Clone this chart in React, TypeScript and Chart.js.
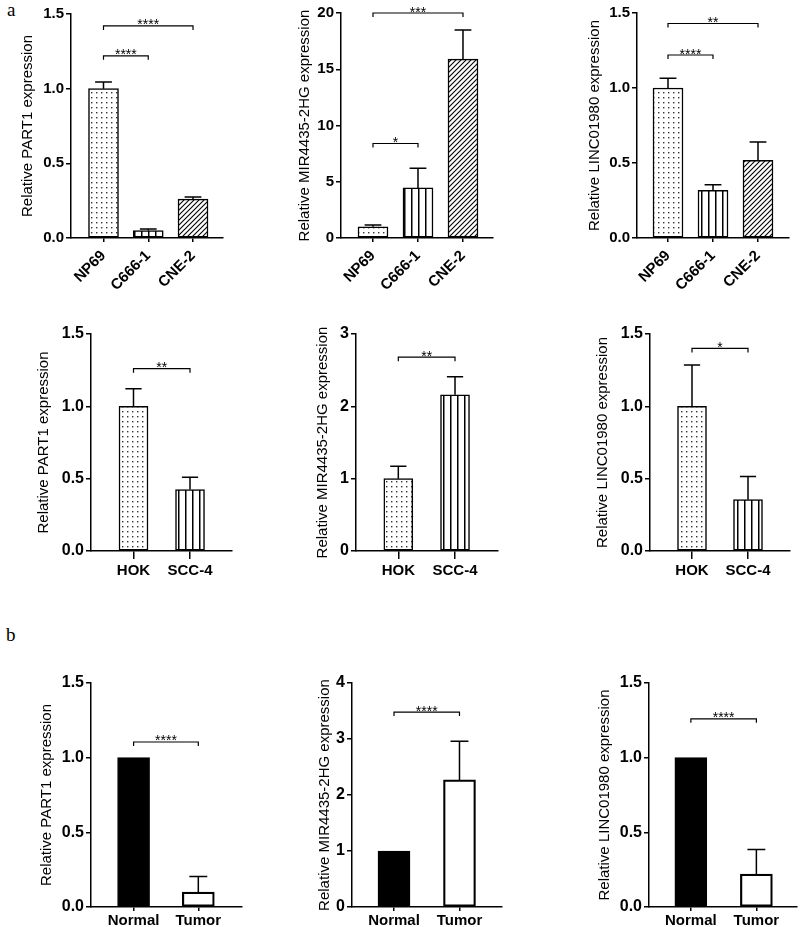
import React, { useEffect, useRef } from "react";
import { Chart, registerables } from "chart.js";
Chart.register(...registerables);

// ---------- data ----------
const npcCells = ["NP69", "C666-1", "CNE-2"];
const oralCells = ["HOK", "SCC-4"];
const tissues = ["Normal", "Tumor"];

const npcPart1Mean = [1.0, 0.05, 0.26];
const npcPart1Sd = [0.045, 0.01, 0.015];
const npcMirMean = [1.0, 4.45, 15.9];
const npcMirSd = [0.15, 1.75, 2.6];
const npcLincMean = [1.0, 0.317, 0.518];
const npcLincSd = [0.065, 0.038, 0.122];

const oralPart1Mean = [1.0, 0.425];
const oralPart1Sd = [0.122, 0.085];
const oralMirMean = [1.0, 2.16];
const oralMirSd = [0.17, 0.25];
const oralLincMean = [1.0, 0.355];
const oralLincSd = [0.285, 0.16];

const tissuePart1Mean = [1.0, 0.1];
const tissuePart1Sd = [0, 0.105];
const tissueMirMean = [1.0, 2.27];
const tissueMirSd = [0, 0.69];
const tissueLincMean = [1.0, 0.22];
const tissueLincSd = [0, 0.165];

const ticksRel = [0, 0.5, 1.0, 1.5];
const ticksMirNpc = [0, 5, 10, 15, 20];
const ticksMirOral = [0, 1, 2, 3];
const ticksMirTissue = [0, 1, 2, 3, 4];

// significance brackets: [from, to, level, label]
const npcPart1Sig: [number, number, number, string][] = [[0, 1, 1.22, "****"], [0, 2, 1.42, "****"]];
const npcMirSig: [number, number, number, string][] = [[0, 1, 8.4, "*"], [0, 2, 20.0, "***"]];
const npcLincSig: [number, number, number, string][] = [[0, 1, 1.22, "****"], [0, 2, 1.43, "**"]];
const oralPart1Sig: [number, number, number, string][] = [[0, 1, 1.26, "**"]];
const oralMirSig: [number, number, number, string][] = [[0, 1, 2.68, "**"]];
const oralLincSig: [number, number, number, string][] = [[0, 1, 1.4, "*"]];
const tissuePart1Sig: [number, number, number, string][] = [[0, 1, 1.105, "****"]];
const tissueMirSig: [number, number, number, string][] = [[0, 1, 3.48, "****"]];
const tissueLincSig: [number, number, number, string][] = [[0, 1, 1.26, "****"]];

const FONT = '"Liberation Sans", Arial, sans-serif';

type Cfg = {
  cats: string[]; mean: number[]; sd: number[]; sig: [number, number, number, string][];
  yTicks: number[]; yMax: number; title: string; fills: string[]; decimals: number;
  axisX: number; axisTop: number; axisBottom: number; axisRight: number; titleCX: number;
  xMin: number; xMax: number; barT: number; rot: number; xTickLen: number; xPad: number;
  xH: number; yFont: number; bw: number[];
};

const npcFills = ["dots", "vlines", "hatch"];
const oralFills = ["dots", "vlines"];
const tissueFills = ["black", "white"];

const panels: Cfg[] = [
  { cats: npcCells, mean: npcPart1Mean, sd: npcPart1Sd, sig: npcPart1Sig, yTicks: ticksRel, yMax: 1.5, decimals: 1,
    title: "Relative PART1 expression", fills: npcFills, axisX: 71, axisTop: 14, axisBottom: 238, axisRight: 223,
    titleCX: 28, xMin: -0.726, xMax: 2.67, barT: 30, rot: 45, xTickLen: 4, xPad: 5, xH: 60, yFont: 15, bw: [1.5, 1.5, 1.5] },
  { cats: npcCells, mean: npcMirMean, sd: npcMirSd, sig: npcMirSig, yTicks: ticksMirNpc, yMax: 20, decimals: 0,
    title: "Relative MIR4435-2HG expression", fills: npcFills, axisX: 341, axisTop: 13, axisBottom: 238, axisRight: 493,
    titleCX: 305, xMin: -0.711, xMax: 2.667, barT: 30, rot: 45, xTickLen: 4, xPad: 5, xH: 60, yFont: 15, bw: [1.5, 1.5, 1.5] },
  { cats: npcCells, mean: npcLincMean, sd: npcLincSd, sig: npcLincSig, yTicks: ticksRel, yMax: 1.5, decimals: 1,
    title: "Relative LINC01980 expression", fills: npcFills, axisX: 637, axisTop: 13, axisBottom: 238, axisRight: 789,
    titleCX: 595, xMin: -0.689, xMax: 2.689, barT: 30, rot: 45, xTickLen: 4, xPad: 5, xH: 60, yFont: 15, bw: [1.5, 1.5, 1.5] },
  { cats: oralCells, mean: oralPart1Mean, sd: oralPart1Sd, sig: oralPart1Sig, yTicks: ticksRel, yMax: 1.5, decimals: 1,
    title: "Relative PART1 expression", fills: oralFills, axisX: 91, axisTop: 334, axisBottom: 551, axisRight: 232,
    titleCX: 44, xMin: -0.752, xMax: 1.743, barT: 29, rot: 0, xTickLen: 8, xPad: 3, xH: 35, yFont: 16, bw: [1.5, 1.5] },
  { cats: oralCells, mean: oralMirMean, sd: oralMirSd, sig: oralMirSig, yTicks: ticksMirOral, yMax: 3, decimals: 0,
    title: "Relative MIR4435-2HG expression", fills: oralFills, axisX: 356, axisTop: 334, axisBottom: 551, axisRight: 498,
    titleCX: 323, xMin: -0.746, xMax: 1.758, barT: 29, rot: 0, xTickLen: 8, xPad: 3, xH: 35, yFont: 16, bw: [1.5, 1.5] },
  { cats: oralCells, mean: oralLincMean, sd: oralLincSd, sig: oralLincSig, yTicks: ticksRel, yMax: 1.5, decimals: 1,
    title: "Relative LINC01980 expression", fills: oralFills, axisX: 650, axisTop: 334, axisBottom: 551, axisRight: 790,
    titleCX: 603, xMin: -0.75, xMax: 1.75, barT: 29, rot: 0, xTickLen: 8, xPad: 3, xH: 35, yFont: 16, bw: [1.5, 1.5] },
  { cats: tissues, mean: tissuePart1Mean, sd: tissuePart1Sd, sig: tissuePart1Sig, yTicks: ticksRel, yMax: 1.5, decimals: 1,
    title: "Relative PART1 expression", fills: tissueFills, axisX: 91, axisTop: 683, axisBottom: 907, axisRight: 242,
    titleCX: 47, xMin: -0.658, xMax: 1.675, barT: 32, rot: 0, xTickLen: 4, xPad: 1, xH: 20, yFont: 16, bw: [1, 2.2] },
  { cats: tissues, mean: tissueMirMean, sd: tissueMirSd, sig: tissueMirSig, yTicks: ticksMirTissue, yMax: 4, decimals: 0,
    title: "Relative MIR4435-2HG expression", fills: tissueFills, axisX: 352, axisTop: 683, axisBottom: 907, axisRight: 502,
    titleCX: 325, xMin: -0.641, xMax: 1.649, barT: 32, rot: 0, xTickLen: 4, xPad: 1, xH: 20, yFont: 16, bw: [1, 2.2] },
  { cats: tissues, mean: tissueLincMean, sd: tissueLincSd, sig: tissueLincSig, yTicks: ticksRel, yMax: 1.5, decimals: 1,
    title: "Relative LINC01980 expression", fills: tissueFills, axisX: 649, axisTop: 683, axisBottom: 907, axisRight: 797,
    titleCX: 605, xMin: -0.639, xMax: 1.62, barT: 32, rot: 0, xTickLen: 4, xPad: 1, xH: 20, yFont: 16, bw: [1, 2.2] },
];

function makeFill(kind: string): any {
  if (kind === "black") return "#000";
  if (kind === "white") return "#fff";
  const c = document.createElement("canvas");
  const g = c.getContext("2d")!;
  if (kind === "dots") {
    c.width = 5; c.height = 5;
    g.fillStyle = "#fff"; g.fillRect(0, 0, 5, 5);
    g.fillStyle = "#333"; g.fillRect(2, 2, 1.4, 1.4);
  } else if (kind === "vlines") {
    c.width = 7; c.height = 4;
    g.fillStyle = "#fff"; g.fillRect(0, 0, 7, 4);
    g.fillStyle = "#000"; g.fillRect(3, 0, 1.5, 4);
  } else {
    c.width = 5; c.height = 5;
    g.fillStyle = "#fff"; g.fillRect(0, 0, 5, 5);
    g.strokeStyle = "#000"; g.lineWidth = 1.1;
    g.beginPath();
    g.moveTo(-1, 6); g.lineTo(6, -1);
    g.moveTo(-1, 1); g.lineTo(1, -1);
    g.moveTo(4, 6); g.lineTo(6, 4);
    g.stroke();
  }
  return g.createPattern(c, "repeat");
}

function Panel({ cfg }: { cfg: Cfg }) {
  const ref = useRef<HTMLCanvasElement>(null);
  const left = Math.round(cfg.titleCX - 9);
  const top = Math.max(0, cfg.axisTop - 20);
  const padTop = cfg.axisTop - top;
  const padR = Math.max(0, Math.min(8, 800 - cfg.axisRight));
  const width = cfg.axisRight + padR - left;
  const height = cfg.axisBottom + cfg.xH - top;
  const yW = cfg.axisX - left;

  useEffect(() => {
    const overlay = {
      id: "overlay",
      afterDatasetsDraw(chart: any) {
        const { ctx } = chart;
        const x = chart.scales.x, y = chart.scales.y;
        ctx.save();
        ctx.strokeStyle = "#000";
        ctx.lineWidth = 1.5;
        cfg.mean.forEach((m, i) => {
          const s = cfg.sd[i];
          if (!s) return;
          const px = x.getPixelForValue(i);
          const y0 = y.getPixelForValue(m);
          const y1 = y.getPixelForValue(m + s);
          const half = cfg.barT * 0.28;
          ctx.beginPath();
          ctx.moveTo(px, y0); ctx.lineTo(px, y1);
          ctx.moveTo(px - half, y1); ctx.lineTo(px + half, y1);
          ctx.stroke();
        });
        ctx.lineWidth = 1.2;
        ctx.font = `14px ${FONT}`;
        ctx.textAlign = "center";
        ctx.textBaseline = "alphabetic";
        ctx.fillStyle = "#000";
        cfg.sig.forEach(([a, b, lv, lab]) => {
          const x1 = x.getPixelForValue(a), x2 = x.getPixelForValue(b), py = y.getPixelForValue(lv);
          ctx.beginPath();
          ctx.moveTo(x1, py + 4); ctx.lineTo(x1, py); ctx.lineTo(x2, py); ctx.lineTo(x2, py + 4);
          ctx.stroke();
          ctx.fillText(lab, (x1 + x2) / 2, py + 3.5);
        });
        ctx.restore();
      },
    };

    const chart = new Chart(ref.current!, {
      type: "bar",
      data: {
        datasets: [{
          data: cfg.mean.map((v, i) => ({ x: i, y: v })),
          backgroundColor: cfg.fills.map(makeFill),
          borderColor: "#000",
          borderWidth: cfg.bw,
          borderSkipped: false,
          barThickness: cfg.barT,
        } as any],
      },
      options: {
        responsive: false,
        animation: false,
        devicePixelRatio: 1,
        layout: { padding: { top: padTop, right: padR, left: 0, bottom: 0 } },
        plugins: { legend: { display: false }, tooltip: { enabled: false } },
        scales: {
          x: {
            type: "linear", min: cfg.xMin, max: cfg.xMax, offset: false, bounds: "data",
            grid: { display: true, drawOnChartArea: false, drawTicks: true, tickLength: cfg.xTickLen, color: "#000", lineWidth: 1.5, offset: false },
            border: { display: true, color: "#000", width: 1.5 },
            ticks: {
              autoSkip: false, maxRotation: cfg.rot, minRotation: cfg.rot, padding: cfg.xPad, color: "#000",
              font: { family: FONT, size: 15, weight: "bold" },
              callback: (v: any) => cfg.cats[Math.round(Number(v))] ?? "",
            },
            afterBuildTicks: (ax: any) => { ax.ticks = cfg.cats.map((_, i) => ({ value: i })); },
            afterFit: (ax: any) => { ax.height = cfg.xH; },
          } as any,
          y: {
            type: "linear", min: 0, max: cfg.yMax, bounds: "data",
            grid: { display: true, drawOnChartArea: false, drawTicks: true, tickLength: 5, color: "#000", lineWidth: 1.5 },
            border: { display: true, color: "#000", width: 1.5 },
            ticks: {
              padding: 2, color: "#000",
              font: { family: FONT, size: cfg.yFont, weight: "bold" },
              callback: (v: any) => Number(v).toFixed(cfg.decimals),
            },
            afterBuildTicks: (ax: any) => { ax.ticks = cfg.yTicks.map((v) => ({ value: v })); },
            title: { display: true, text: cfg.title, color: "#000", font: { family: FONT, size: 15 }, padding: 0 },
            afterFit: (ax: any) => { ax.width = yW; },
          } as any,
        },
      },
      plugins: [overlay],
    });
    return () => chart.destroy();
  }, []);

  return (
    <canvas
      ref={ref}
      width={width}
      height={height}
      style={{ position: "absolute", left, top, width, height }}
    />
  );
}

export default function App() {
  return (
    <div style={{ position: "absolute", left: 0, top: 0, width: 800, height: 927, background: "#fff", overflow: "hidden" }}>
      <div style={{ position: "absolute", left: 7, top: 0, font: '19px "Liberation Serif", "Times New Roman", serif', lineHeight: "20px" }}>a</div>
      <div style={{ position: "absolute", left: 6, top: 625, font: '19px "Liberation Serif", "Times New Roman", serif', lineHeight: "20px" }}>b</div>
      {panels.map((p, i) => <Panel key={i} cfg={p} />)}
    </div>
  );
}
